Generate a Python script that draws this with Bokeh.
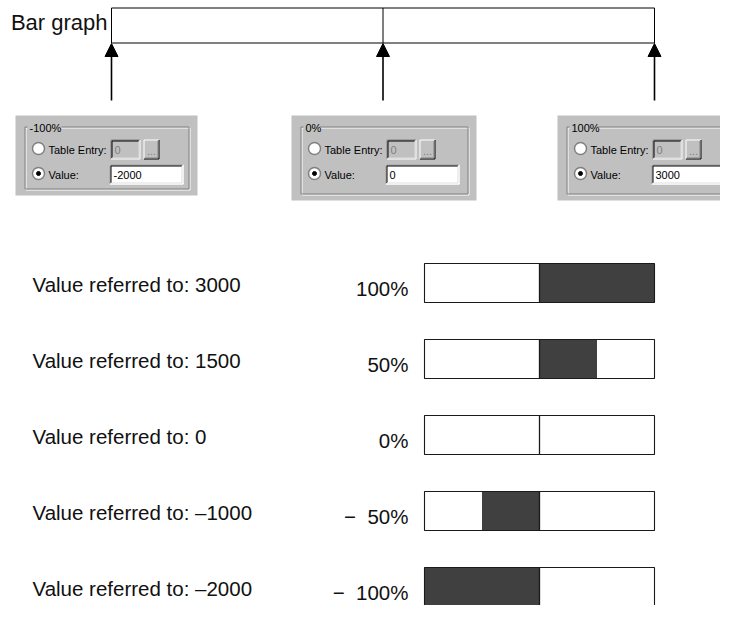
from bokeh.plotting import figure
from bokeh.models import Range1d, ColumnDataSource, Arrow, NormalHead
from bokeh.core.properties import value
from bokeh.embed import file_html
from bokeh.resources import INLINE

# ---------------- data ----------------
referred_values = [3000, 1500, 0, -1000, -2000]
range_min = -2000
range_max = 3000
scale_percents = [-100, 0, 100]
dialog_titles = ["-100%", "0%", "100%"]
dialog_values = ["-2000", "0", "3000"]
dialog_table_entries = ["0", "0", "0"]
caption = "Bar graph"


def to_percent(v):
    return 100.0 * v / range_max if v >= 0 else -100.0 * v / range_min


def pct_text(pc):
    n = abs(int(round(pc)))
    return f"{n}%" if pc >= 0 else f"\u2212\u00a0\u00a0{n}%"


def ref_text(v):
    return f"Value referred to: {v}" if v >= 0 else f"Value referred to: \u2013{abs(v)}"


percents = [to_percent(v) for v in referred_values]

# ---------------- figure ----------------
W, H = 720, 605
X_LO, X_HI = 0, 720      # drawing space (reference pixels)
Y_BOT, Y_TOP = 605, 0
p = figure(width=W, height=H, x_range=Range1d(X_LO, X_HI), y_range=Range1d(Y_BOT, Y_TOP),
           output_backend="svg", toolbar_location=None, min_border=0,
           x_axis_type=None, y_axis_type=None)
p.outline_line_color = None
p.background_fill_color = "white"
p.border_fill_color = "white"


def span_range(v0, px0, v1, px1, lo, hi):
    k = (v1 - v0) / (px1 - px0)
    return Range1d(start=v0 + (lo - px0) * k, end=v0 + (hi - px0) * k)


ROW_PITCH = 76
p.extra_x_ranges = {
    "pct": span_range(-100, 424, 100, 654, X_LO, X_HI),
    "top": span_range(-100, 111, 100, 654, X_LO, X_HI),
}
p.extra_y_ranges = {"row": span_range(0, 282.5, 1, 282.5 + ROW_PITCH, Y_BOT, Y_TOP)}

FONT = value("Liberation Sans")
BIG = "20.5px"
lo_p, mid_p, hi_p = scale_percents

# ---------------- top bar graph ----------------
p.quad(left=[lo_p], right=[hi_p], top=[7.5], bottom=[42.5], x_range_name="top",
       fill_color="white", line_color="black", line_width=1)
p.segment(x0=[mid_p], x1=[mid_p], y0=[7.5], y1=[42.5], x_range_name="top",
          line_color="black", line_width=1)
arrow_src = ColumnDataSource(dict(x=scale_percents, ys=[100] * 3, ye=[43] * 3))
p.add_layout(Arrow(end=NormalHead(size=13, fill_color="black", line_color="black"),
                   x_start="x", y_start="ys", x_end="x", y_end="ye", source=arrow_src,
                   x_range_name="top", line_color="black", line_width=1.6))
p.text(x=[107], y=[21.5], text=[caption], text_align="right", text_baseline="middle",
       text_font=FONT, text_font_size="22px", text_color="#111111")

# ---------------- dialogs ----------------
dialog_boxes = [(15, 115, 182, 80), (291, 115, 185, 85), (557, 115, 185, 85)]
Q = dict(l=[], r=[], t=[], b=[], fc=[], fa=[], lc=[], la=[])
S = dict(x0=[], y0=[], x1=[], y1=[], c=[])
R = dict(x=[], y=[])
D = dict(x=[], y=[])
T = dict(x=[], y=[], text=[], c=[])
TC = dict(x=[], y=[], text=[], c=[])


def quad(l, r, t, b, fc=None, lc=None):
    Q["l"].append(l); Q["r"].append(r); Q["t"].append(t); Q["b"].append(b)
    Q["fc"].append(fc or "white"); Q["fa"].append(1 if fc else 0)
    Q["lc"].append(lc or "black"); Q["la"].append(1 if lc else 0)


def seg(x0, y0, x1, y1, c):
    S["x0"].append(x0 + 0.5); S["y0"].append(y0 + 0.5)
    S["x1"].append(x1 + 0.5); S["y1"].append(y1 + 0.5); S["c"].append(c)


def sunken(x0, y0, x1, y1, fill):
    quad(x0, x1 + 1, y0, y1 + 1, fc=fill)
    seg(x0, y0, x1, y0, "#808080"); seg(x0, y0, x0, y1, "#808080")
    seg(x0 + 1, y0 + 1, x1 - 1, y0 + 1, "#000000"); seg(x0 + 1, y0 + 1, x0 + 1, y1 - 1, "#000000")
    seg(x0, y1, x1, y1, "#ffffff"); seg(x1, y0, x1, y1, "#ffffff")
    seg(x0 + 1, y1 - 1, x1 - 1, y1 - 1, "#dfdfdf"); seg(x1 - 1, y0 + 1, x1 - 1, y1 - 1, "#dfdfdf")


def raised(x0, y0, x1, y1):
    quad(x0, x1 + 1, y0, y1 + 1, fc="#c0c0c0")
    seg(x0, y0, x1, y0, "#ffffff"); seg(x0, y0, x0, y1, "#ffffff")
    seg(x0, y1, x1, y1, "#000000"); seg(x1, y0, x1, y1, "#000000")
    seg(x0 + 1, y1 - 1, x1 - 1, y1 - 1, "#808080"); seg(x1 - 1, y0 + 1, x1 - 1, y1 - 1, "#808080")


TB = dict(l=[], r=[], t=[], b=[])
for (gx, gy, gw, gh), title, val, entry in zip(dialog_boxes, dialog_titles, dialog_values,
                                               dialog_table_entries):
    quad(gx, gx + gw, gy, gy + gh, fc="#c0c0c0")
    gl, gr, gt, gb = gx + 9, gx + gw - 9, gy + 11, gy + gh - 7
    seg(gl + 1, gt + 1, gr + 1, gt + 1, "#ffffff"); seg(gl + 1, gt + 1, gl + 1, gb + 1, "#ffffff")
    seg(gl + 1, gb + 1, gr + 1, gb + 1, "#ffffff"); seg(gr + 1, gt + 1, gr + 1, gb + 1, "#ffffff")
    seg(gl, gt, gr, gt, "#808080"); seg(gl, gt, gl, gb, "#808080")
    seg(gl, gb, gr, gb, "#808080"); seg(gr, gt, gr, gb, "#808080")
    TB["l"].append(gl + 3); TB["r"].append(gl + 7 + 6.0 * len(title))
    TB["t"].append(gt - 5); TB["b"].append(gt + 5)
    T["x"].append(gl + 5); T["y"].append(gt + 1); T["text"].append(title); T["c"].append("black")
    T["x"].append(gx + 33); T["y"].append(gy + 34); T["text"].append("Table Entry:"); T["c"].append("black")
    T["x"].append(gx + 33); T["y"].append(gy + 59); T["text"].append("Value:"); T["c"].append("black")
    sunken(gx + 95, gy + 24, gx + 124, gy + 43, "#c0c0c0")
    T["x"].append(gx + 99); T["y"].append(gy + 34); T["text"].append(entry); T["c"].append("#808080")
    raised(gx + 128, gy + 24, gx + 143, gy + 43)
    TC["x"].append(gx + 136); TC["y"].append(gy + 35); TC["text"].append("..."); TC["c"].append("#808080")
    sunken(gx + 94, gy + 49, gx + 167, gy + 68, "#ffffff")
    T["x"].append(gx + 98); T["y"].append(gy + 59); T["text"].append(val); T["c"].append("black")
    R["x"] += [gx + 23, gx + 23]; R["y"] += [gy + 33, gy + 58]
    D["x"].append(gx + 23); D["y"].append(gy + 58)

p.quad(left="l", right="r", top="t", bottom="b", fill_color="fc", fill_alpha="fa",
       line_color="lc", line_alpha="la", source=ColumnDataSource(Q))
p.segment(x0="x0", y0="y0", x1="x1", y1="y1", line_color="c", line_width=1,
          source=ColumnDataSource(S))
p.quad(left="l", right="r", top="t", bottom="b", fill_color="#c0c0c0", line_color=None,
       source=ColumnDataSource(TB))
p.scatter(x="x", y="y", size=12, marker="circle", fill_color="white", line_color="#808080",
          line_width=1.5, source=ColumnDataSource(R))
p.scatter(x="x", y="y", size=4, marker="circle", fill_color="black", line_color="black",
          source=ColumnDataSource(D))
p.text(x="x", y="y", text="text", text_color="c", text_align="left", text_baseline="middle",
       text_font=FONT, text_font_size="11px", source=ColumnDataSource(T))
p.text(x="x", y="y", text="text", text_color="c", text_align="center", text_baseline="middle",
       text_font=FONT, text_font_size="11px", source=ColumnDataSource(TC))

# ---------------- lower bars ----------------
rows = list(range(len(referred_values)))
half = 19.5 / ROW_PITCH
bars = ColumnDataSource(dict(
    row=rows,
    top=[r - half for r in rows],
    bottom=[r + half for r in rows],
    full_lo=[lo_p] * len(rows),
    full_hi=[hi_p] * len(rows),
    mid=[mid_p] * len(rows),
    lo=[min(mid_p, pc) for pc in percents],
    hi=[max(mid_p, pc) for pc in percents],
    pct_label=[pct_text(pc) for pc in percents],
    ref_label=[ref_text(v) for v in referred_values],
))
p.quad(left="full_lo", right="full_hi", top="top", bottom="bottom", source=bars,
       x_range_name="pct", y_range_name="row", fill_color="white", line_color=None)
p.quad(left="lo", right="hi", top="top", bottom="bottom", source=bars,
       x_range_name="pct", y_range_name="row", fill_color="#404040", line_color=None)
p.quad(left="full_lo", right="full_hi", top="top", bottom="bottom", source=bars,
       x_range_name="pct", y_range_name="row", fill_color=None, line_color="#1a1a1a",
       line_width=1.1)
p.segment(x0="mid", x1="mid", y0="top", y1="bottom", source=bars,
          x_range_name="pct", y_range_name="row", line_color="#1a1a1a", line_width=1.3)

p.text(x=32, y="row", text="ref_label", source=bars, y_range_name="row", y_offset=1,
       text_align="left", text_baseline="middle", text_font=FONT,
       text_font_size=BIG, text_color="#111111")
p.text(x=408, y="row", text="pct_label", source=bars, y_range_name="row", y_offset=5,
       text_align="right", text_baseline="middle", text_font=FONT,
       text_font_size=BIG, text_color="#111111")

open("out.html", "w").write(file_html(p, INLINE))
